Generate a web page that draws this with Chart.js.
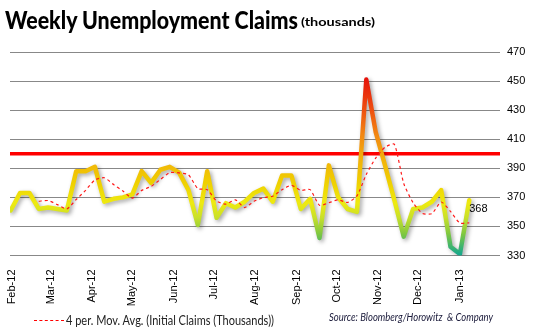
<!DOCTYPE html>
<html>
<head>
<meta charset="utf-8">
<script src="https://cdn.jsdelivr.net/npm/chart.js@4/dist/chart.umd.min.js"></script>
<style>
  html, body { margin: 0; padding: 0; background: #fff; }
  #wrap { position: relative; width: 535px; height: 334px; overflow: hidden; }
  #chart { position: absolute; left: 0; top: 0; }
  .txt { position: absolute; white-space: nowrap; transform-origin: left center; line-height: 1; }
  #title { left: 5px; top: 8px; font-family: Lato, sans-serif; font-weight: 900; font-size: 24px; color: #000; }
  #subtitle { left: 301px; top: 16px; font-family: Lato, sans-serif; font-weight: bold; font-size: 12px; color: #000; }
  #legendLine { position: absolute; left: 34px; top: 320px; width: 30px; border-top: 1px dashed #f00; }
  #legend { left: 66px; top: 314px; font-family: Lato, sans-serif; font-size: 13px; color: #222; }
  #source { left: 329px; top: 311px; font-family: Lato, sans-serif; font-style: italic; font-size: 11px; color: #1a1a3a; }
</style>
</head>
<body>
<div id="wrap">
  <canvas id="chart" width="535" height="334"></canvas>
  <div class="txt" id="title">Weekly Unemployment Claims</div>
  <div class="txt" id="subtitle">(thousands)</div>
  <div id="legendLine"></div>
  <div class="txt" id="legend">4 per. Mov. Avg. (Initial Claims (Thousands))</div>
  <div class="txt" id="source">Source: Bloomberg/Horowitz &nbsp;&amp; Company</div>
</div>
<script>
'use strict';

// weekly initial claims, thousands
var firstWeek = '2012-01-31';
var claims = [361, 373, 373, 362, 363, 362, 361, 388, 388, 391,
              367, 369, 370, 372, 388, 380, 389, 391, 387, 375,
              351, 388, 356, 366, 363, 367, 373, 376, 367, 385,
              385, 362, 369, 342, 392, 370, 362, 360, 451, 415,
              392, 368, 343, 362, 363, 367, 375, 336, 331, 368];
var movAvg = [null, null, null, 367.3, 367.8, 365, 362, 368.5, 374.8, 382,
              383.5, 378.8, 374.3, 369.5, 374.8, 377.5, 382.3, 387, 386.8, 385.5,
              376, 375.3, 367.5, 365.3, 368.3, 363, 367.3, 369.8, 370.8, 375.3,
              378.3, 374.8, 375.3, 364.5, 366.3, 368.3, 366.5, 371, 385.8, 397,
              404.5, 406.5, 379.5, 366.3, 359, 358.8, 366.8, 360.3, 352.3, 352.5];
var monthLabels = ['Feb-12', 'Mar-12', 'Apr-12', 'May-12', 'Jun-12', 'Jul-12',
                   'Aug-12', 'Sep-12', 'Oct-12', 'Nov-12', 'Dec-12', 'Jan-13'];
var monthStarts = ['2012-02-01', '2012-03-01', '2012-04-01', '2012-05-01', '2012-06-01', '2012-07-01',
                   '2012-08-01', '2012-09-01', '2012-10-01', '2012-11-01', '2012-12-01', '2013-01-01'];
var yTicks = [330, 350, 370, 390, 410, 430, 450, 470];
var threshold = 400;

function dayOffset(d) {
    return (Date.parse(d) - Date.parse(firstWeek)) / 86400000;
}

// squeeze a text block to the width it has in the original
function fitWidth(id, width) {
    var el = document.getElementById(id);
    var w = el.getBoundingClientRect().width;
    el.style.transform = 'scaleX(' + (width / w) + ')';
}
fitWidth('title', 293);
fitWidth('subtitle', 74);
fitWidth('legend', 208);
fitWidth('source', 164);

var claimPoints = claims.map((v, i) => ({ x: i * 7, y: v }));
var avgPoints = movAvg.map((v, i) => ({ x: i * 7, y: v }));

// colour of the claims line runs from red (high) to green (low)
var colorStops = [[455, '#e40a0a'], [430, '#ee5010'], [412, '#f28a12'], [395, '#f2b40a'],
                  [380, '#efd000'], [366, '#eeea10'], [356, '#c8e02a'], [345, '#80c840'], [331, '#18a88a']];

function lineGradient(context) {
    var chart = context.chart;
    var area = chart.chartArea;
    if (!area) return '#eeea10';
    var y = chart.scales.y;
    var top = y.getPixelForValue(colorStops[0][0]);
    var bottom = y.getPixelForValue(colorStops[colorStops.length - 1][0]);
    var g = chart.ctx.createLinearGradient(0, top, 0, bottom);
    colorStops.forEach(s => {
        g.addColorStop((y.getPixelForValue(s[0]) - top) / (bottom - top), s[1]);
    });
    return g;
}

var extras = {
    id: 'extras',
    beforeDatasetsDraw(chart) {
        var ctx = chart.ctx, a = chart.chartArea;
        var py = chart.scales.y.getPixelForValue(threshold);
        ctx.save();
        ctx.strokeStyle = '#ff0000';
        ctx.lineWidth = 3.5;
        ctx.beginPath();
        ctx.moveTo(a.left, py);
        ctx.lineTo(a.right, py);
        ctx.stroke();
        ctx.restore();
    },
    beforeDatasetDraw(chart, args) {
        if (args.index !== 1) return;
        var ctx = chart.ctx;
        ctx.save();
        ctx.shadowColor = 'rgba(0,0,0,0.35)';
        ctx.shadowBlur = 4;
        ctx.shadowOffsetX = 2;
        ctx.shadowOffsetY = 2;
    },
    afterDatasetDraw(chart, args) {
        if (args.index !== 1) return;
        chart.ctx.restore();
    },
    afterDatasetsDraw(chart) {
        var meta = chart.getDatasetMeta(1);
        var last = meta.data[meta.data.length - 1];
        var ctx = chart.ctx;
        ctx.save();
        ctx.fillStyle = '#000';
        ctx.font = '11px "Liberation Sans", sans-serif';
        ctx.textAlign = 'left';
        ctx.textBaseline = 'middle';
        ctx.fillText(String(claims[claims.length - 1]), last.x, last.y + 9);
        ctx.restore();
    }
};

new Chart(document.getElementById('chart'), {
    type: 'line',
    data: {
        datasets: [{
            label: '4 per. Mov. Avg. (Initial Claims (Thousands))',
            data: avgPoints,
            borderColor: '#ff1a1a',
            borderWidth: 1.2,
            borderDash: [3, 3],
            pointRadius: 0,
            tension: 0.2,
            spanGaps: false,
            order: 0
        }, {
            label: 'Initial Claims (Thousands)',
            data: claimPoints,
            borderColor: lineGradient,
            borderWidth: 4.5,
            borderJoinStyle: 'round',
            borderCapStyle: 'round',
            pointRadius: 0,
            tension: 0,
            order: 1
        }]
    },
    options: {
        responsive: false,
        animation: false,
        events: [],
        layout: { padding: { left: 10, top: 52, right: 0, bottom: 0 } },
        plugins: {
            legend: { display: false },
            title: { display: false },
            tooltip: { enabled: false }
        },
        scales: {
            x: {
                type: 'linear',
                min: -0.5,
                max: 366,
                afterFit: scale => { scale.height = 78.5; },
                afterBuildTicks: scale => {
                    scale.ticks = monthStarts.map(d => ({ value: dayOffset(d) }));
                },
                grid: { display: false },
                border: { display: false },
                ticks: {
                    autoSkip: false,
                    minRotation: 90,
                    maxRotation: 90,
                    padding: 6,
                    color: '#000',
                    font: { family: '"Liberation Sans", sans-serif', size: 11 },
                    callback: (v, i) => monthLabels[i]
                }
            },
            y: {
                position: 'right',
                min: yTicks[0],
                max: yTicks[yTicks.length - 1],
                afterFit: scale => { scale.width = 35; },
                afterBuildTicks: scale => {
                    scale.ticks = yTicks.map(v => ({ value: v }));
                },
                grid: { color: '#888888', lineWidth: 1, drawTicks: false },
                border: { display: false },
                ticks: {
                    padding: 7,
                    color: '#000',
                    font: { family: '"Liberation Sans", sans-serif', size: 11 }
                }
            }
        }
    },
    plugins: [extras]
});
</script>
</body>
</html>
